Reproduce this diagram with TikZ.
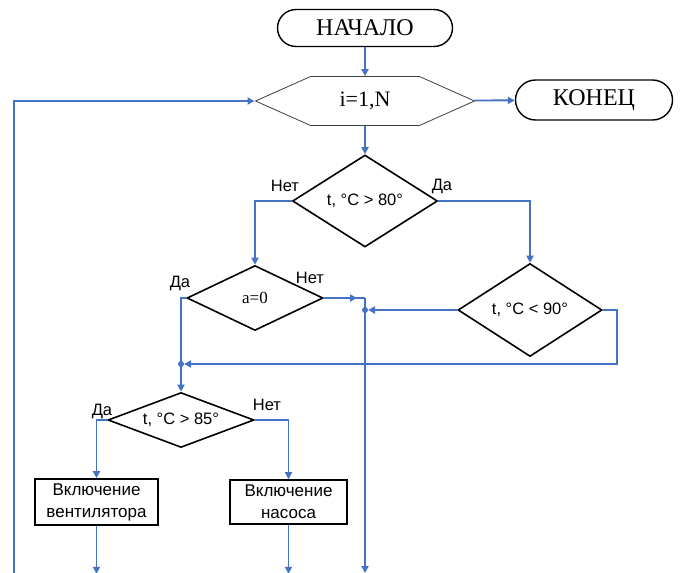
\documentclass[tikz,border=0pt]{standalone}
\usepackage{fontspec}
\setmainfont{Liberation Serif}
\setsansfont{Liberation Sans}
\usetikzlibrary{shapes.geometric,shapes.misc,shapes.symbols,arrows.meta}
\definecolor{lineblue}{RGB}{68,114,196}

\begin{document}
\begin{tikzpicture}[x=1pt,y=-1pt,
    term/.style={rounded rectangle,draw=black,line width=1.4pt,inner sep=0pt,font=\fontsize{24}{26}\selectfont},
    cyc/.style={signal,signal to=west and east,signal pointer angle=48,draw=black!75,line width=0.8pt,inner sep=0pt,
        minimum width=219pt,minimum height=49pt,font=\fontsize{22}{24}\selectfont},
    dec/.style={diamond,draw=black,line width=1.6pt,inner sep=0pt,font=\sffamily\fontsize{16.5}{18}\selectfont},
    act/.style={rectangle,draw=black,line width=1.6pt,inner sep=0pt,align=center,font=\sffamily\fontsize{17}{22}\selectfont},
    lbl/.style={font=\sffamily\fontsize{16.5}{18}\selectfont,inner sep=0pt},
    line/.style={draw=lineblue,line width=1.9pt},
    flow/.style={line,-{Triangle[length=7pt,width=7pt]}}]
    \useasboundingbox (0,0) rectangle (683,573);

    \node[term,minimum width=175pt,minimum height=37pt] (start) at (365,28) {НАЧАЛО};
    \node[cyc] (loop) at (365,101) {i=1,N};
    \node[term,minimum width=157pt,minimum height=40pt] (stop) at (594,100) {КОНЕЦ};
    \node[dec,minimum width=145pt,minimum height=92pt,aspect=1.6] (c80) at (365,201) {t, °C > 80°};
    \node[dec,minimum width=136pt,minimum height=65pt,aspect=2,font=\fontsize{17}{18}\selectfont] (a0) at (255,298) {a=0};
    \node[dec,minimum width=144pt,minimum height=93pt,aspect=1.6] (c90) at (530,310) {t, °C < 90°};
    \node[dec,minimum width=146pt,minimum height=55pt,aspect=2.9] (c85) at (181,420) {t, °C > 85°};
    \node[act,minimum width=123pt,minimum height=46pt] (fan) at (96.5,502) {Включение\\вентилятора};
    \node[act,minimum width=117pt,minimum height=44pt] (pump) at (288.5,502) {Включение\\насоса};

    \node[lbl] (n80) at (285,186) {Нет};
    \node[lbl] (y80) at (442,186) {Да};
    \node[lbl] (ya0) at (180,283) {Да};
    \node[lbl] (na0) at (310,278) {Нет};
    \node[lbl] (y85) at (102,411) {Да};
    \node[lbl] (n85) at (267,405) {Нет};

    \coordinate (back) at (14,573);
    \coordinate (na) at (365,298);
    \coordinate (j1) at (365,310);
    \coordinate (j2) at (181,364);
    \coordinate (out) at (365,573);

    \draw[flow] (start) -- (loop);
    \draw[flow] (loop) -- (stop);
    \draw[flow] (loop) -- (c80);
    \draw[flow] (back) |- (loop.west);

    \draw[flow] (c80.west) -| (a0.north);
    \draw[flow] (c80.east) -| (c90.north);

    \draw[flow] (a0.east) -- ([xshift=-8pt]na);
    \draw[line] (a0.east) -- (na);
    \draw[flow] (na) -- (out);
    \draw[flow,shorten >=3pt] (c90.west) -- (j1);
    \draw[flow,shorten >=3pt] (c90.east) -- ++(14,0) |- (j2);
    \draw[flow] (a0.west) -| (c85.north);
    \fill[lineblue] (j1) circle (3pt);
    \fill[lineblue] (j2) circle (3pt);

    \draw[flow] (c85.west) -| (fan.north);
    \draw[flow] (c85.east) -| (pump.north);
    \draw[flow] (fan.south) -- ++(0,48);
    \draw[flow] (pump.south) -- ++(0,49);
\end{tikzpicture}
\end{document}
